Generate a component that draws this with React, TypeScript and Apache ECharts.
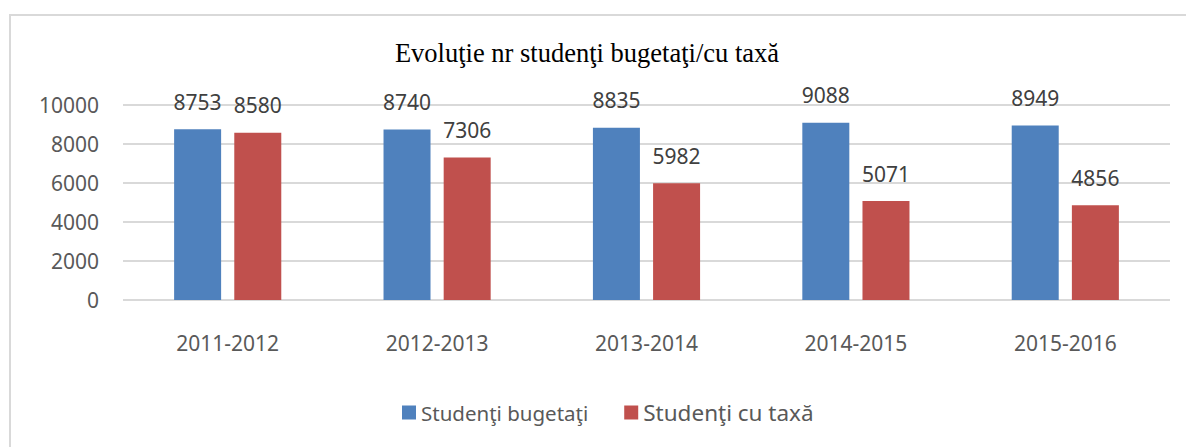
import React, { useEffect, useRef } from "react";
import * as echarts from "echarts";

const categories = ["2011-2012", "2012-2013", "2013-2014", "2014-2015", "2015-2016"];
const bugetati = [8753, 8740, 8835, 9088, 8949];
const cuTaxa = [8580, 7306, 5982, 5071, 4856];
const seriesNames = ["Studenţi bugetaţi", "Studenţi cu taxă"];
const titleText = "Evoluţie nr studenţi bugetaţi/cu taxă";

const FONT = "'Noto Sans', 'Open Sans', sans-serif";

export default function App() {
  const ref = useRef<HTMLDivElement>(null);
  useEffect(() => {
    if (!ref.current) return;
    const chart = echarts.init(ref.current, undefined, { renderer: "svg" });
    chart.setOption({
      animation: false,
      backgroundColor: "#ffffff",
      title: {
        text: titleText,
        left: 582,
        top: 34,
        textAlign: "center",
        textStyle: {
          fontFamily: "'Liberation Serif', 'Times New Roman', serif",
          fontSize: 26.5,
          fontWeight: "normal",
          color: "#000000",
        },
      },
      graphic: [
        {
          type: "rect",
          z: -10,
          shape: { x: 10, y: 15, width: 1300, height: 600 },
          style: { fill: "none", stroke: "#d9d9d9", lineWidth: 2 },
          silent: true,
        },
      ],
      legend: {
        left: 397,
        top: 396,
        itemWidth: 14,
        itemHeight: 14,
        itemGap: 36,
        icon: "rect",
        data: [
          { name: seriesNames[0], textStyle: { fontSize: 20.5 } },
          { name: seriesNames[1], textStyle: { fontSize: 22.5 } },
        ],
        textStyle: { fontFamily: FONT, color: "#595959" },
      },
      grid: { left: 123, right: 16, top: 105, bottom: 147 },
      xAxis: {
        type: "category",
        data: categories,
        axisLine: { show: false },
        axisTick: { show: false },
        axisLabel: { fontFamily: FONT, fontSize: 21, color: "#595959", margin: 32 },
      },
      yAxis: {
        type: "value",
        min: 0,
        max: 10000,
        interval: 2000,
        axisLine: { show: false },
        axisTick: { show: false },
        splitLine: { lineStyle: { color: "#d9d9d9", width: 2 } },
        axisLabel: {
          fontFamily: FONT,
          fontSize: 21,
          color: "#595959",
          margin: 24,
          formatter: (v: number) => String(v),
        },
      },
      series: [
        {
          name: seriesNames[0],
          type: "bar",
          data: bugetati,
          barWidth: 47,
          barGap: "28%",
          itemStyle: { color: "#4f81bd" },
          label: {
            show: true,
            position: "top",
            distance: 17,
            fontFamily: FONT,
            fontSize: 21,
            color: "#404040",
          },
        },
        {
          name: seriesNames[1],
          type: "bar",
          data: cuTaxa,
          barWidth: 47,
          barGap: "28%",
          itemStyle: { color: "#c0504d" },
          label: {
            show: true,
            position: "top",
            distance: 17,
            fontFamily: FONT,
            fontSize: 21,
            color: "#404040",
          },
        },
      ],
    });
    return () => chart.dispose();
  }, []);
  return (
    <div
      ref={ref}
      style={{ position: "fixed", left: 0, top: 0, width: 1186, height: 447 }}
    />
  );
}
